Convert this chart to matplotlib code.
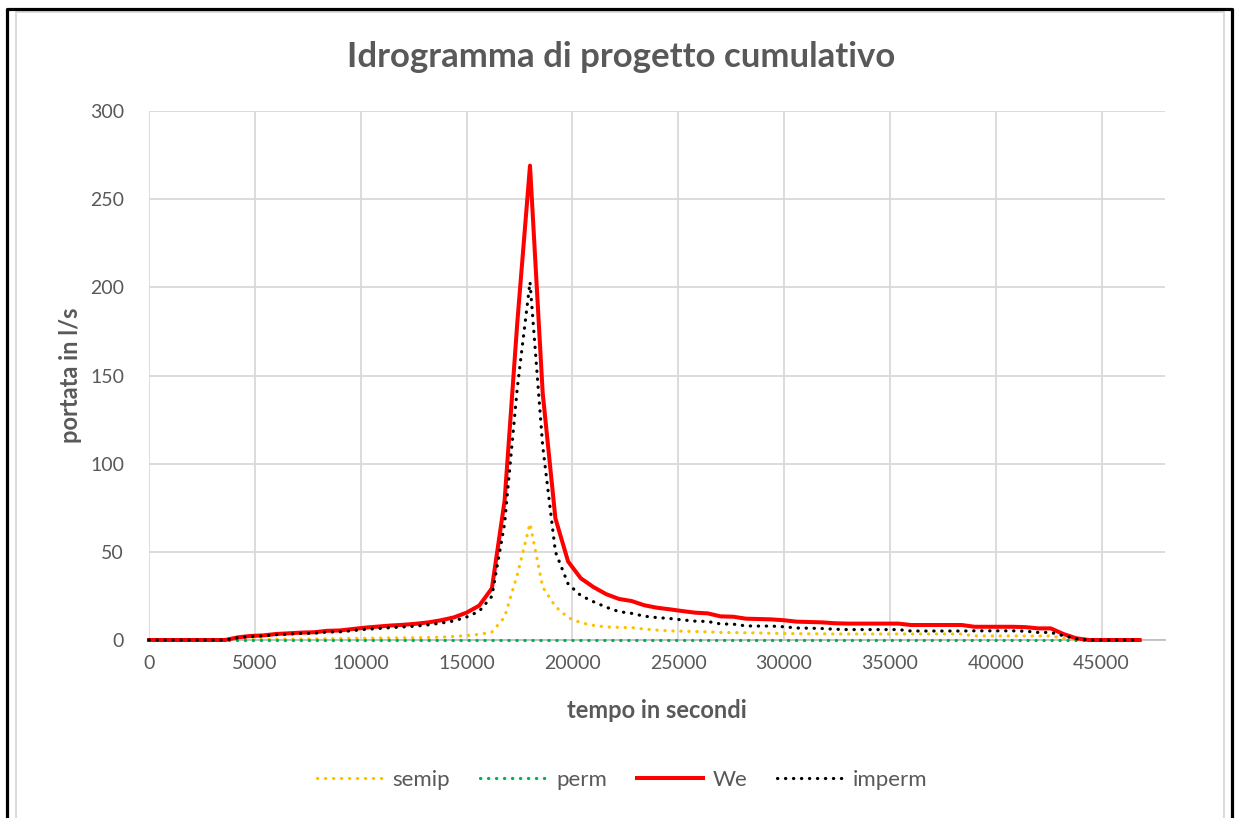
import matplotlib
matplotlib.use("Agg")
from matplotlib import pyplot as plt
from matplotlib.lines import Line2D

# time steps (s)
tempo = list(range(0, 46801, 600))

# flow rates in l/s
semip = [0, 0, 0, 0, 0, 0, 0, 0.2, 0.3, 0.3,
         0.4, 0.5, 0.5, 0.6, 0.7, 0.8, 0.9, 1.0, 1.1, 1.2,
         1.2, 1.3, 1.4, 1.6, 2.0, 2.5, 3.2, 4.5, 13, 37,
         66, 30, 19, 12.7, 9.8, 8.3, 7.4, 7.2, 7.0, 6.2,
         5.6, 5.2, 5.0, 4.8, 4.6, 4.3, 4.2, 4.1, 4.0, 3.8,
         3.7, 3.6, 3.5, 3.5, 3.4, 3.4, 3.4, 3.4, 3.4, 3.4,
         3.4, 3.4, 3.4, 3.4, 3.4, 2.3, 2.3, 2.3, 2.3, 2.3,
         2.3, 2.3, 1.0, 0.3, 0, 0, 0, 0, 0]
perm = [0.0] * 79
We = [0, 0, 0, 0, 0, 0, 0, 1.5, 2.3, 2.6,
      3.4, 3.8, 4.2, 4.4, 5.2, 5.4, 6.2, 7.0, 7.6, 8.2,
      8.6, 9.2, 10.0, 11.2, 12.8, 15.5, 19.5, 29.3, 79, 180,
      269, 140, 69, 44.5, 35, 30, 26, 23.3, 22.1, 19.7,
      18.3, 17.4, 16.4, 15.5, 15.1, 13.4, 13.2, 12.1, 11.9, 11.7,
      11.2, 10.4, 10.2, 10.0, 9.5, 9.3, 9.3, 9.3, 9.3, 9.3,
      8.5, 8.5, 8.5, 8.5, 8.5, 7.5, 7.5, 7.5, 7.5, 7.3,
      6.6, 6.6, 3.4, 1.0, 0, 0, 0, 0, 0]
imperm = [0, 0, 0, 0, 0, 0, 0, 1.3, 2.0, 2.3,
          3.0, 3.3, 3.7, 3.8, 4.5, 4.6, 5.3, 6.0, 6.5, 7.0,
          7.4, 7.9, 8.6, 9.6, 10.8, 13.0, 16.3, 24.8, 66, 143,
          203, 110, 50, 31.8, 25.2, 21.7, 18.6, 16.1, 15.1, 13.5,
          12.7, 12.2, 11.4, 10.7, 10.5, 9.1, 9.0, 8.0, 7.9, 7.9,
          7.5, 6.8, 6.7, 6.5, 6.1, 5.9, 5.9, 5.9, 5.9, 5.9,
          5.1, 5.1, 5.1, 5.1, 5.1, 5.2, 5.2, 5.2, 5.2, 5.0,
          4.3, 4.3, 2.4, 0.7, 0, 0, 0, 0, 0]

x_ticks = list(range(0, 45001, 5000))
y_ticks = list(range(0, 301, 50))

grey = "#595959"
plt.rcParams["font.family"] = ["Lato", "DejaVu Sans"]

fig = plt.figure(figsize=(12.37, 8.18), dpi=100)
ax = fig.add_axes([149 / 1237, 1 - 640 / 818, (1165 - 149) / 1237, (640 - 111) / 818])

dots = dict(linestyle=(0, (0.1, 2.4)), dash_capstyle="round", lw=2.3, clip_on=False, zorder=3)
ax.plot(tempo, semip, color="#FFC000", label="semip", **dots)
ax.plot(tempo, perm, color="#00B050", label="perm", **dots)
ax.plot(tempo, We, color="#FF0000", lw=2.9, label="We", solid_joinstyle="round",
        clip_on=False, zorder=3)
ax.plot(tempo, imperm, color="black", label="imperm", **dots)

ax.set_xlim(0, 48000)
ax.set_ylim(0, 300)
ax.set_xticks(x_ticks)
ax.set_yticks(y_ticks)
ax.grid(True, color="#D9D9D9", lw=1.3)
ax.set_axisbelow(True)
for s in ["top", "right", "left"]:
    ax.spines[s].set_visible(False)
ax.spines["bottom"].set_color("#BFBFBF")
ax.spines["bottom"].set_linewidth(1.3)
ax.spines["bottom"].set_zorder(1)
ax.tick_params(length=0, labelsize=14, labelcolor=grey)
ax.tick_params(axis="x", pad=11)
ax.tick_params(axis="y", pad=18)

ax.set_xlabel("tempo in secondi", fontsize=17, fontweight="bold", color=grey, va="center")
ax.xaxis.set_label_coords(0.5, (640 - 711) / 529)
ax.set_ylabel("portata in l/s", fontsize=17, fontweight="bold", color=grey, va="center", ha="center")
ax.yaxis.set_label_coords((70 - 149) / 1016, 0.5)
fig.text(0.502, 1 - 57 / 818, "Idrogramma di progetto cumulativo", ha="center", va="center",
         fontsize=25, fontweight="bold", color=grey)

leg = ax.legend(loc="center", bbox_to_anchor=(0.503, 1 - 780 / 818), bbox_transform=fig.transFigure,
                ncol=4, frameon=False, fontsize=16, handlelength=3.0, columnspacing=1.35,
                handletextpad=0.4)
for t in leg.get_texts():
    t.set_color(grey)

# chart borders
W, H = 1237, 818
def border(xs, ys, color, lw):
    fig.add_artist(Line2D([x / W for x in xs], [1 - y / H for y in ys],
                          transform=fig.transFigure, color=color, lw=lw))

border([16, 16, 1224, 1224], [830, 12, 12, 830], "#D9D9D9", 1.4)
border([7, 7, 1232, 1232], [830, 9, 9, 830], "black", 2.3)

fig.savefig("out.png", dpi=100)
